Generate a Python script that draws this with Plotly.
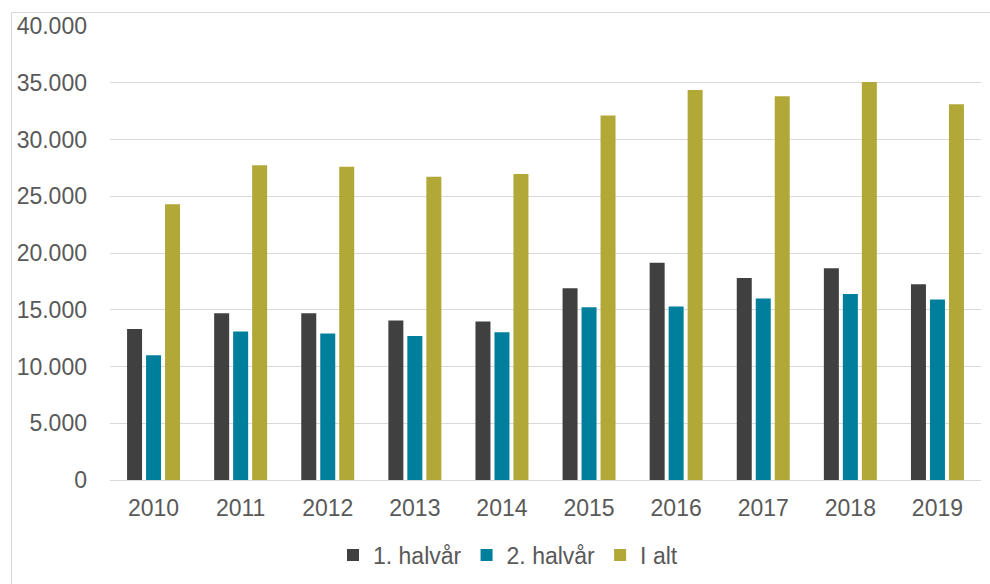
import plotly.graph_objects as go

years = ["2010", "2011", "2012", "2013", "2014", "2015", "2016", "2017", "2018", "2019"]
first_half = [13300, 14700, 14700, 14050, 13960, 16900, 19130, 17800, 18660, 17250]
second_half = [10990, 13080, 12900, 12690, 13020, 15220, 15280, 15990, 16390, 15900]
total = [24300, 27740, 27590, 26710, 26950, 32120, 34360, 33800, 35060, 33100]

series_names = ["1. halvår", "2. halvår", "I alt"]
series_colors = ["#404040", "#007F9C", "#B1A837"]
series_values = [first_half, second_half, total]

FONT = "Liberation Sans, Arial, sans-serif"
TXT = "#595959"

fig = go.Figure()
for name, color, vals in zip(series_names, series_colors, series_values):
    fig.add_trace(go.Bar(
        x=years, y=vals, name=name,
        marker=dict(color=color, line=dict(width=0)),
    ))

W, H = 990, 584
ml, mr, mt, mb = 110, 9, 26, 104
pw = W - ml - mr
ph = H - mt - mb

def px_to_paper_x(px):
    return (px - ml) / pw

def px_to_paper_y(py):
    return (H - mb - py) / ph

fig.update_layout(
    width=W, height=H,
    margin=dict(l=ml, r=mr, t=mt, b=mb, pad=0, autoexpand=False),
    paper_bgcolor="white", plot_bgcolor="white",
    barmode="group", bargap=0.346, bargroupgap=0.21,
    separators=",.",
    font=dict(family=FONT, size=23, color=TXT),
    showlegend=True,
    legend=dict(
        orientation="h",
        x=px_to_paper_x(508), xanchor="center",
        y=px_to_paper_y(555), yanchor="middle",
        font=dict(family=FONT, size=23, color=TXT),
        bgcolor="rgba(0,0,0,0)",
        traceorder="normal",
        itemwidth=30,
    ),
    xaxis=dict(
        type="category", automargin=False,
        showgrid=False, zeroline=False,
        showline=True, linecolor="#D9D9D9", linewidth=1,
        ticks="", ticklabelstandoff=7,
        tickfont=dict(family=FONT, size=23, color=TXT),
    ),
    yaxis=dict(
        range=[0, 40000], dtick=5000, tick0=0, automargin=False,
        tickformat=",d",
        showgrid=True, gridcolor="#D9D9D9", gridwidth=1,
        zeroline=False, showline=False,
        ticks="", ticklabelstandoff=22,
        tickfont=dict(family=FONT, size=23, color=TXT),
    ),
    shapes=[dict(
        type="rect", xref="paper", yref="paper",
        x0=px_to_paper_x(11.5), x1=px_to_paper_x(1010),
        y0=px_to_paper_y(600), y1=px_to_paper_y(12.5),
        line=dict(color="#D9D9D9", width=1),
        fillcolor="rgba(0,0,0,0)", layer="below",
    )],
)

fig.write_html(
    "out.html",
    config={"displayModeBar": False},
    post_script="document.body.style.margin='0';document.body.style.overflow='hidden';",
)
